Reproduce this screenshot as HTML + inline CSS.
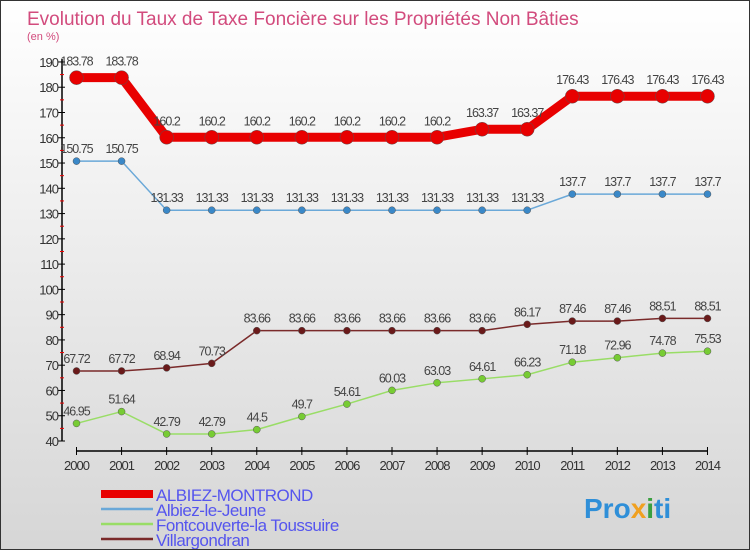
<!DOCTYPE html>
<html><head><meta charset="utf-8"><style>
body{margin:0}
#c{width:750px;height:550px;position:relative;overflow:hidden;background:linear-gradient(#ffffff,#d6d6d6);border:1px solid #333;box-sizing:border-box;font-family:"Liberation Sans",sans-serif}
</style></head><body>
<div id="c">
<svg id="s" width="750" height="550" style="position:absolute;left:0;top:0">
<text x="26" y="24" font-size="19" fill="#d24b7d">Evolution du Taux de Taxe Foncière sur les Propriétés Non Bâties</text>
<text x="26" y="39" font-size="11" fill="#d24b7d">(en %)</text>
<g id="axes"></g><g id="series"></g>
<text x="583" y="517" font-size="28" font-weight="bold" fill="#2f8fd8">Pro<tspan fill="#f0a020">x</tspan><tspan fill="#3aa040">i</tspan>ti</text>
</svg>
</div>
<script>
const years=[2000,2001,2002,2003,2004,2005,2006,2007,2008,2009,2010,2011,2012,2013,2014];
const yTicks=[40,50,60,70,80,90,100,110,120,130,140,150,160,170,180,190];
const albiezMontrond=[183.78,183.78,160.2,160.2,160.2,160.2,160.2,160.2,160.2,163.37,163.37,176.43,176.43,176.43,176.43];
const albiezJeune=[150.75,150.75,131.33,131.33,131.33,131.33,131.33,131.33,131.33,131.33,131.33,137.7,137.7,137.7,137.7];
const fontcouverte=[46.95,51.64,42.79,42.79,44.5,49.7,54.61,60.03,63.03,64.61,66.23,71.18,72.96,74.78,75.53];
const villargondran=[67.72,67.72,68.94,70.73,83.66,83.66,83.66,83.66,83.66,83.66,86.17,87.46,87.46,88.51,88.51];
const seriesNames=["ALBIEZ-MONTROND","Albiez-le-Jeune","Fontcouverte-la Toussuire","Villargondran"];
const NS="http://www.w3.org/2000/svg";
const X=i=>75.5+i*45.07, Y=v=>440-(v-40)*2.527;
function mk(t,a,p){const e=document.createElementNS(NS,t);for(const k in a)e.setAttribute(k,a[k]);p.appendChild(e);return e;}
const ax=document.getElementById('axes'), sg=document.getElementById('series');
let l=mk('line',{x1:61,y1:58,x2:61,y2:440,stroke:'#000','stroke-width':1.5},ax);

l=mk('line',{x1:75,y1:450,x2:707,y2:450,stroke:'#000','stroke-width':1.5},ax);

yTicks.forEach(v=>{mk('line',{x1:57,x2:64,y1:Y(v),y2:Y(v),stroke:'#000'},ax);
 if(v<190)mk('line',{x1:59,x2:63,y1:Y(v+5),y2:Y(v+5),stroke:'#e00'},ax);
 const t=mk('text',{x:57,y:Y(v)+5,'text-anchor':'end','font-size':13,fill:'#333','letter-spacing':'-1'},ax);t.textContent=v;
 });
years.forEach((y,i)=>{mk('line',{x1:X(i),x2:X(i),y1:446,y2:454,stroke:'#000'},ax);
 const t=mk('text',{x:X(i),y:469,'text-anchor':'middle','font-size':13,fill:'#333','letter-spacing':'-1'},ax);t.textContent=y;
 });
const defs=[[albiezMontrond,'#e80000',9,7,'#e80000'],[albiezJeune,'#6aa8d8',1.5,3.5,'#3a88c8'],[fontcouverte,'#99dd66',1.5,3.5,'#77cc33'],[villargondran,'#7a2a2a',1.5,3.5,'#6a1a1a']];
defs.forEach((d,si)=>{const [vals,col,w,r,mc]=d;
 const p=mk('polyline',{points:vals.map((v,i)=>X(i)+','+Y(v)).join(' '),fill:'none',stroke:col,'stroke-width':w,'stroke-linejoin':'round'},sg);
 
 vals.forEach((v,i)=>{const c=mk('circle',{cx:X(i),cy:Y(v),r:r,fill:mc,stroke:'#555','stroke-width':0.5},sg);
  
  const t=mk('text',{x:X(i),y:Y(v)-(si==0?12:8),'text-anchor':'middle','font-size':12.5,fill:'#444','letter-spacing':'-1'},sg);t.textContent=v;
  });
 const ly=493+si*15;
 const ll=mk('line',{x1:100,x2:152,y1:ly,y2:ly,stroke:col,'stroke-width':si==0?8:2.5},sg);
 
 const lt=mk('text',{x:155,y:ly+7,'font-size':17,fill:'#5555ee','letter-spacing':'-0.5'},sg);lt.textContent=seriesNames[si];
 
});
</script>
</body></html>
